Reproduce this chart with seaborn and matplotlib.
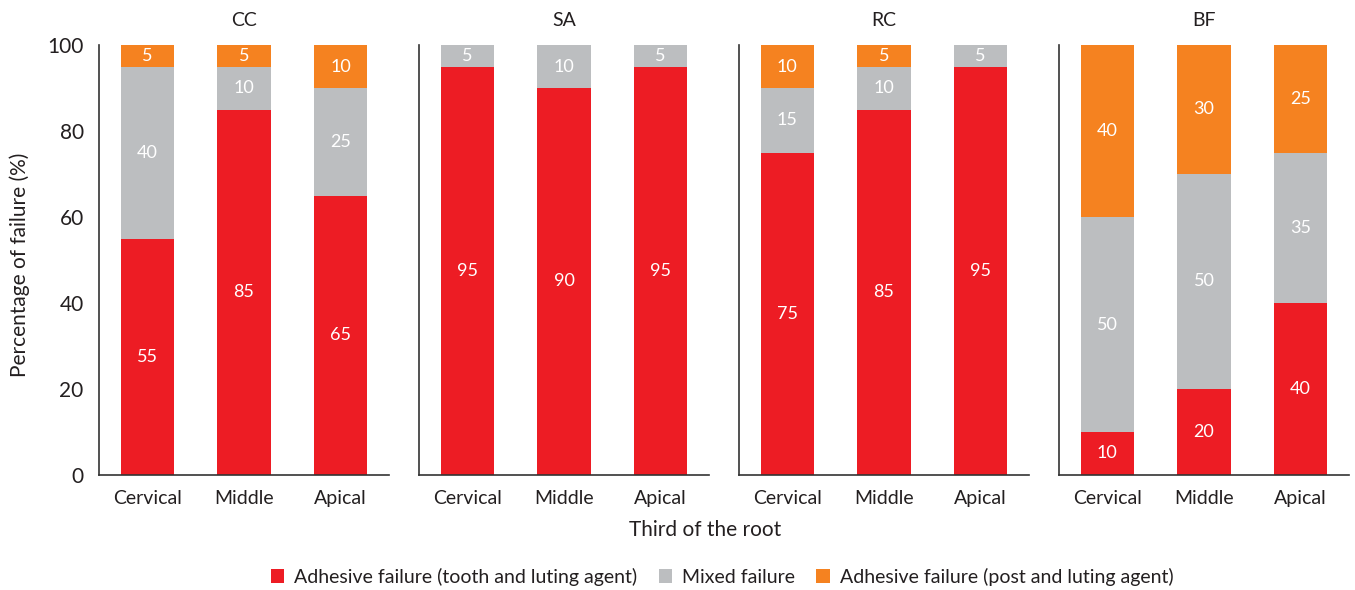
import numpy as np
import pandas as pd
import matplotlib
matplotlib.use("Agg")
import matplotlib.pyplot as plt
import seaborn as sns
from matplotlib.patches import Patch

# ── Datos
groups = ["CC", "SA", "RC", "BF"]
thirds = ["Cervical", "Middle", "Apical"]
adhesive_tooth = {"CC": [55, 85, 65], "SA": [95, 90, 95], "RC": [75, 85, 95], "BF": [10, 20, 40]}
mixed = {"CC": [40, 10, 25], "SA": [5, 10, 5], "RC": [15, 10, 5], "BF": [50, 50, 35]}
adhesive_post = {"CC": [5, 5, 10], "SA": [0, 0, 0], "RC": [10, 5, 0], "BF": [40, 30, 25]}

series_names = ["Adhesive failure (tooth and luting agent)", "Mixed failure",
                "Adhesive failure (post and luting agent)"]
colors = ["#ED1C24", "#BCBEC0", "#F58220"]

sns.set_style("white")
plt.rcParams["font.family"] = ["Lato", "DejaVu Sans"]
text_col = "#231F20"

fig = plt.figure(figsize=(13.55, 5.9), dpi=100)
lefts = [99, 419, 739, 1059]
W, H = 1355, 590

for i, g in enumerate(groups):
    ax = fig.add_axes([lefts[i] / W, 1 - 475 / H, 290 / W, 430 / H])
    df = pd.DataFrame({
        "third": thirds,
        "red": adhesive_tooth[g],
        "gray": mixed[g],
        "orange": adhesive_post[g],
    })
    df["top2"] = df["red"] + df["gray"]
    df["top3"] = df["top2"] + df["orange"]

    # barras apiladas: totales acumulados superpuestos
    for col, c in zip(["top3", "top2", "red"], colors[::-1]):
        sns.barplot(data=df, x="third", y=col, color=c, width=0.55,
                    saturation=1, ax=ax, order=thirds, edgecolor="none", linewidth=0)

    # etiquetas de valor
    for j in range(3):
        base = 0
        for key in ["red", "gray", "orange"]:
            v = df[key].iloc[j]
            if v > 0:
                ax.text(j, base + v / 2, f"{v}", ha="center", va="center",
                        color="white", fontsize=13)
            base += v

    ax.set_xlim(-0.5, 2.5)
    ax.set_ylim(0, 100)
    ax.set_yticks([0, 20, 40, 60, 80, 100])
    ax.set_xticks([-0.5, 0.5, 1.5, 2.5])
    ax.set_xticklabels([])
    ax.set_xticks([0, 1, 2], minor=True)
    ax.set_xticklabels(thirds, minor=True, fontsize=14, color=text_col)
    ax.tick_params(axis="x", which="minor", length=0, pad=11)
    ax.tick_params(axis="x", which="major", length=6, width=1.2, color="#333333", direction="out")
    ax.tick_params(axis="y", length=6, width=1.2, color="#333333", direction="out",
                   labelsize=15, labelcolor=text_col, pad=5)
    if i > 0:
        ax.set_yticklabels([])
    ax.set_xlabel("")
    ax.set_ylabel("")
    for s in ["top", "right"]:
        ax.spines[s].set_visible(False)
    for s in ["left", "bottom"]:
        ax.spines[s].set_color("#333333")
        ax.spines[s].set_linewidth(1.2)
    ax.set_title(g, fontsize=14, color=text_col, pad=14)

fig.text(20 / W, 1 - 265 / H, "Percentage of failure (%)", rotation=90,
         ha="center", va="center", fontsize=15, color=text_col)
fig.text(705 / W, 1 - 530 / H, "Third of the root", ha="center", va="center",
         fontsize=15, color=text_col)

handles = [Patch(facecolor=c, edgecolor="none") for c in colors]
fig.legend(handles, series_names, loc="center", bbox_to_anchor=(722 / W, 1 - 577 / H),
           ncol=3, frameon=False, fontsize=14, handlelength=0.7, handleheight=0.7,
           handletextpad=0.5, columnspacing=1.1, labelcolor=text_col)

fig.savefig("out.png", dpi=100)
